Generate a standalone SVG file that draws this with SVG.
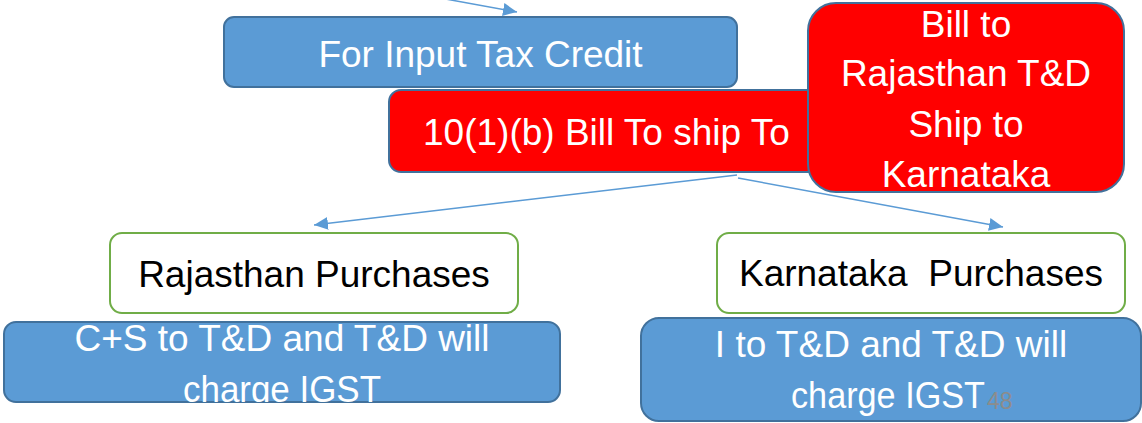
<svg xmlns="http://www.w3.org/2000/svg" width="1142" height="423" viewBox="0 0 1142 423">
<style>
.t{font-family:"Liberation Sans",Arial,sans-serif;font-size:37px;text-anchor:middle}
.w{fill:#ffffff}
.k{fill:#000000}
.blue{fill:#5B9BD5;stroke:#41719C;stroke-width:2}
.red{fill:#FF0000;stroke:#41719C;stroke-width:2}
.green{fill:#ffffff;stroke:#70AD47;stroke-width:2}
.conn{stroke:#5B9BD5;stroke-width:1.5;fill:none;marker-end:url(#ah)}
</style>
<defs>
<marker id="ah" markerUnits="userSpaceOnUse" markerWidth="16" markerHeight="14" refX="14" refY="6.5" orient="auto">
<path d="M0,0 L14,6.5 L0,13 Z" fill="#5B9BD5"/>
</marker>
<clipPath id="clipCS"><rect x="4" y="322" width="556" height="80"/></clipPath>
</defs>
<rect width="1142" height="423" fill="#ffffff"/>
<g id="connectors">
<line class="conn" x1="440" y1="-2" x2="517" y2="12"/>
<line class="conn" x1="737" y1="175" x2="314" y2="225"/>
<line class="conn" x1="738" y1="178" x2="1003" y2="227"/>
</g>
<g id="node-itc">
<rect class="blue" x="224" y="17" width="513" height="70" rx="10"/>
<text class="t w" x="480.5" y="67">For Input Tax Credit</text>
</g>
<g id="node-bill-ship">
<rect class="red" x="389" y="90" width="440" height="82" rx="12"/>
<text class="t w" x="423" y="145" style="text-anchor:start">10(1)(b) Bill To ship To</text>
</g>
<g id="node-bill-rajasthan">
<rect class="red" x="808" y="3" width="316" height="189" rx="28"/>
<text class="t w" x="966" y="37">Bill to</text>
<text class="t w" x="966" y="86">Rajasthan T&amp;D</text>
<text class="t w" x="966" y="137">Ship to</text>
<text class="t w" x="966" y="187">Karnataka</text>
</g>
<g id="node-rajasthan">
<rect class="green" x="110" y="233" width="408" height="80" rx="12"/>
<text class="t k" x="314" y="287">Rajasthan Purchases</text>
</g>
<g id="node-karnataka">
<rect class="green" x="717" y="233" width="408" height="80" rx="12"/>
<text class="t k" x="921" y="286" xml:space="preserve">Karnataka  Purchases</text>
</g>
<g id="node-cs">
<rect class="blue" x="4" y="322" width="556" height="80" rx="12"/>
<g clip-path="url(#clipCS)">
<text class="t w" x="282" y="351">C+S to T&amp;D and T&amp;D will</text>
<text class="t w" x="282" y="402" textLength="198" lengthAdjust="spacingAndGlyphs">charge IGST</text>
</g>
</g>
<g id="node-i">
<rect class="blue" x="641" y="318" width="500" height="103" rx="18"/>
<text class="t w" x="891" y="357">I to T&amp;D and T&amp;D will</text>
<text class="t w" x="888" y="408" textLength="194" lengthAdjust="spacingAndGlyphs">charge IGST</text>
</g>
<g id="page-number">
<text x="987" y="409" style="font-family:'Liberation Sans',Arial,sans-serif;font-size:23px;fill:#8C8C8C">48</text>
</g>
</svg>
